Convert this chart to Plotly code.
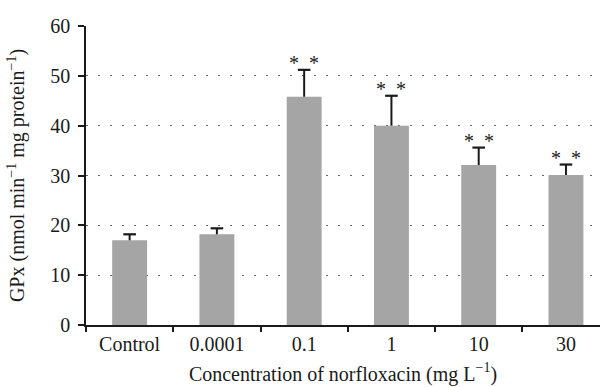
import plotly.graph_objects as go

categories = ["Control", "0.0001", "0.1", "1", "10", "30"]
means = [17.0, 18.2, 45.8, 40.0, 32.1, 30.1]
errors = [1.2, 1.2, 5.4, 6.0, 3.5, 2.1]
stars = ["", "", "*  *", "*  *", "*  *", "*  *"]
y_ticks = [0, 10, 20, 30, 40, 50, 60]

FONT = "Liberation Serif"
INK = "#1a1a1a"

tops = [m + e for m, e in zip(means, errors)]

fig = go.Figure()
fig.add_trace(go.Bar(
    x=categories, y=means, width=0.4,
    marker=dict(color="#a5a5a5", line=dict(width=0)),
    showlegend=False, hoverinfo="skip",
))
# upper-only error bars: stem from the bar top, cap drawn as a marker
fig.add_trace(go.Scatter(
    x=categories, y=tops, mode="markers",
    marker=dict(symbol="line-ew", size=9, line=dict(width=2.2, color=INK), color=INK),
    error_y=dict(type="data", array=[0]*len(errors), arrayminus=errors,
                 symmetric=False, color=INK, thickness=2, width=0),
    showlegend=False,
))

for i, (t, s) in enumerate(zip(tops, stars)):
    if s:
        fig.add_annotation(x=i, y=t, text=s, showarrow=False,
                           yanchor="bottom", yshift=-6,
                           font=dict(family=FONT, size=20, color="#222222"))

fig.update_layout(
    width=600, height=387,
    margin=dict(l=86, r=0, t=26, b=62),
    plot_bgcolor="white", paper_bgcolor="white",
    font=dict(family=FONT, size=20, color=INK),
    xaxis=dict(
        type="category", range=[-0.5, 5.39],
        showline=True, linecolor=INK, linewidth=1.5,
        ticks="outside", tickson="boundaries", ticklen=5, tickwidth=1.5, tickcolor=INK,
        showgrid=False,
        title=dict(text="Concentration of norfloxacin (mg L<sup>−1</sup>)", standoff=13,
                   font=dict(family=FONT, size=20)),
        tickfont=dict(family=FONT, size=20),
    ),
    yaxis=dict(
        range=[0, 60], tickvals=y_ticks,
        showline=True, linecolor=INK, linewidth=1.5,
        ticks="outside", ticklen=6, tickwidth=1.5, tickcolor=INK,
        ticklabelstandoff=4,
        showgrid=True, gridcolor="#666", gridwidth=1.3, griddash="2px,10px",
        zeroline=False,
        title=dict(text="GPx (nmol min<sup>−1</sup> mg protein<sup>−1</sup>)", standoff=20,
                   font=dict(family=FONT, size=20)),
        tickfont=dict(family=FONT, size=20),
    ),
)

fig.write_html("out.html")
